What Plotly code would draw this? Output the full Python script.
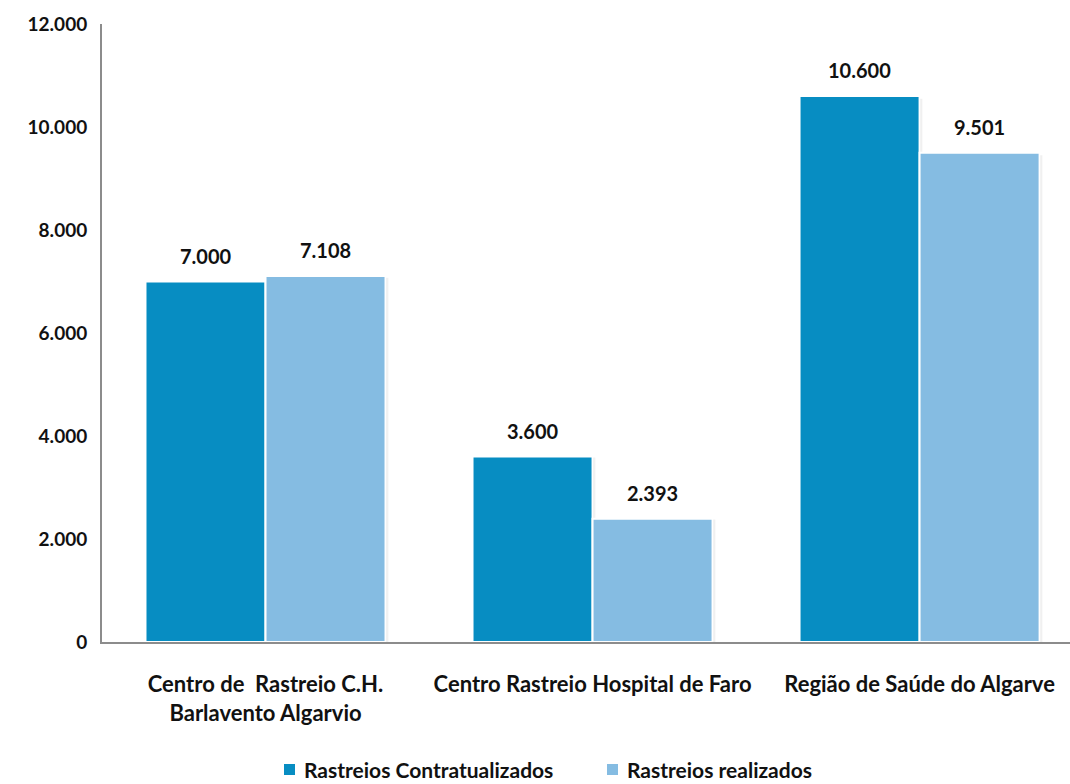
import plotly.graph_objects as go

categories = ["Centro de  Rastreio C.H.<br>Barlavento Algarvio",
              "Centro Rastreio Hospital de Faro",
              "Região de Saúde do Algarve"]
contratualizados = [7000, 3600, 10600]
realizados = [7108, 2393, 9501]
series_names = ["Rastreios Contratualizados", "Rastreios realizados"]
colors = ["#078DC2", "#85BCE2"]
y_ticks = [0, 2000, 4000, 6000, 8000, 10000, 12000]

FONT = "Lato"
W, H = 1070, 784
ML, MT, MB = 102, 24, 142
PW, PH = W - ML, H - MT - MB

def fmt(v):
    return f"{v:,}".replace(",", ".")

def px_x(px):
    return (px - ML) / PW

def px_y(py):
    return (H - MB - py) / PH

fig = go.Figure()
for name, vals, col in zip(series_names, [contratualizados, realizados], colors):
    fig.add_trace(go.Bar(
        x=list(range(len(categories))), y=vals, name=name, showlegend=False,
        marker=dict(color=col, line=dict(color="white", width=2)),
    ))

bargap = 0.266
half = (1 - bargap) / 4
annotations = []
shapes = []
for i in range(len(categories)):
    for k, vals in enumerate([contratualizados, realizados]):
        annotations.append(dict(
            x=i + (-half if k == 0 else half), y=vals[i], xref="x", yref="y",
            text=f"<b>{fmt(vals[i])}</b>", showarrow=False, yanchor="bottom", yshift=12,
            font=dict(family=FONT, size=20, color="#111111"),
        ))
        right_edge = i if k == 0 else i + 2 * half
        for j, op in enumerate([0.14, 0.08, 0.04]):
            shapes.append(dict(
                type="rect", xref="x", yref="y", layer="below",
                xsizemode="pixel", xanchor=right_edge,
                x0=j, x1=j + 1, y0=0, y1=vals[i] * 0.995,
                fillcolor=f"rgba(0,0,0,{op})", line=dict(width=0),
            ))

# legend (drawn manually so the text can be bold)
legend_sq_left = [284, 607]
for name, col, sx in zip(series_names, colors, legend_sq_left):
    shapes.append(dict(
        type="rect", xref="paper", yref="paper",
        x0=px_x(sx), x1=px_x(sx + 11), y0=px_y(775), y1=px_y(764),
        fillcolor=col, line=dict(width=0),
    ))
    annotations.append(dict(
        x=px_x(sx + 18), y=px_y(769), xref="paper", yref="paper",
        xanchor="left", yanchor="middle", showarrow=False,
        text=f"<b>{name}</b>", font=dict(family=FONT, size=21, color="#111111"),
    ))

fig.update_layout(
    width=W, height=H,
    margin=dict(l=ML, r=0, t=MT, b=MB),
    paper_bgcolor="white", plot_bgcolor="white",
    barmode="group", bargap=bargap, bargroupgap=0,
    font=dict(family=FONT, size=19, color="#111111"),
    showlegend=False,
    xaxis=dict(
        range=[-0.5, 2.46],
        showline=True, linecolor="#8C8C8C", linewidth=2,
        ticks="", ticklabelstandoff=22, automargin=False,
        tickvals=list(range(len(categories))),
        ticktext=[f"<b>{c}</b>".replace("<br>", "</b><br><b>") for c in categories],
        tickfont=dict(family=FONT, size=22),
        showgrid=False, zeroline=False,
    ),
    yaxis=dict(
        range=[0, 12000], tickvals=y_ticks,
        ticktext=[f"<b>{fmt(v)}</b>" for v in y_ticks],
        showline=True, linecolor="#8C8C8C", linewidth=2,
        ticks="", ticklabelstandoff=9, automargin=False,
        tickfont=dict(family=FONT, size=19),
        showgrid=False, zeroline=False,
    ),
    annotations=annotations,
    shapes=shapes,
)

fig.write_html("out.html")
